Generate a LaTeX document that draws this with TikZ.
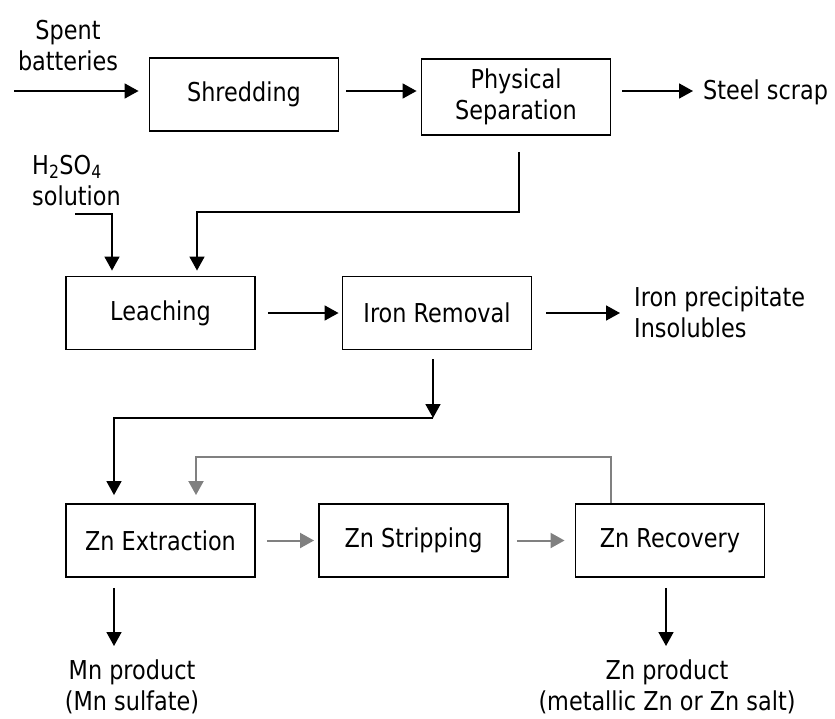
\documentclass[tikz,border=0pt]{standalone}
\usepackage{fontspec}
\setmainfont{DejaVu Sans}[FakeStretch=0.86]
\usetikzlibrary{arrows.meta}

\begin{document}
\begin{tikzpicture}[x=1pt,y=-1pt,
  font=\fontsize{26}{31}\selectfont,
  stage/.style={draw,line width=1.9pt,minimum width=189pt,minimum height=73pt,inner sep=0pt,align=center},
  lbl/.style={inner sep=0pt,align=center},
  flow/.style={line width=1.7pt,-{Triangle[length=14pt,width=15pt]}},
  gflow/.style={flow,line width=2pt,draw=gray}]
\useasboundingbox (0,0) rectangle (835,718);

\node[lbl] (spent) at (68,46) {Spent\\batteries};
\node[stage] (shred) at (244,94.5) {Shredding};
\node[stage,minimum height=76pt] (physep) at (516,97) {Physical\\Separation};
\node[lbl,anchor=west] (steel) at (703,92) {Steel scrap};
\node[lbl,anchor=base west,align=left] (acid) at (32,205) {H\textsubscript{2}SO\textsubscript{4}\\solution};
\node[stage] (leach) at (160.5,313) {Leaching};
\node[stage] (iron) at (437,313) {Iron Removal};
\node[lbl,anchor=west,align=left] (waste) at (634,312) {Iron precipitate\\Insolubles};
\node[stage] (zext) at (160.5,540.5) {Zn Extraction};
\node[stage] (zstrip) at (413.5,540.5) {Zn Stripping};
\node[stage] (zrec) at (670,540.5) {Zn Recovery};
\node[lbl] (mn) at (132,687) {Mn product\\(Mn sulfate)};
\node[lbl] (zn) at (667,687) {Zn product\\(metallic Zn or Zn salt)};

\coordinate (in) at (14,91);
\coordinate (a1) at (75,214);
\coordinate (a2) at (112,214);
\coordinate (j0) at (519,212);
\coordinate (j1) at (197,212);
\coordinate (j2) at (433,418);
\coordinate (j3) at (114,418);
\coordinate (r1) at (611,457);
\coordinate (r2) at (196,457);
\coordinate (d1) at (114,646);
\coordinate (d2) at (666,646);

\draw[flow,shorten >=10pt] (in) -- (in -| shred.west);
\draw[flow,shorten <=7pt,shorten >=4pt] (shred.east |- in) -- (physep.west |- in);
\draw[flow,shorten <=11pt,shorten >=10pt] (physep.east |- in) -- (steel.west |- in);
\draw[flow,shorten >=5pt] (a1) -- (a2) -- (a2 |- leach.north);
\draw[flow,shorten <=16pt,shorten >=5pt] (j0 |- physep.south) -- (j0) -- (j1) -- (j1 |- leach.north);
\draw[flow,shorten <=12pt,shorten >=3pt] (leach) -- (iron);
\draw[flow,shorten <=14pt,shorten >=14pt] (iron.east) -- (iron.east -| waste.west);
\draw[flow,shorten <=9pt] (j2 |- iron.south) -- (j2);
\draw[flow,shorten >=8pt] (j2) -- (j3) -- (j3 |- zext.north);
\draw[gflow,shorten >=8pt] (r1 |- zrec.north) -- (r1) -- (r2) -- (r2 |- zext.north);
\draw[gflow,shorten <=11pt,shorten >=4pt] (zext) -- (zstrip);
\draw[gflow,shorten <=8pt,shorten >=10pt] (zstrip) -- (zrec);
\draw[flow,shorten <=10pt] (d1 |- zext.south) -- (d1);
\draw[flow,shorten <=10pt] (d2 |- zrec.south) -- (d2);
\end{tikzpicture}
\end{document}
